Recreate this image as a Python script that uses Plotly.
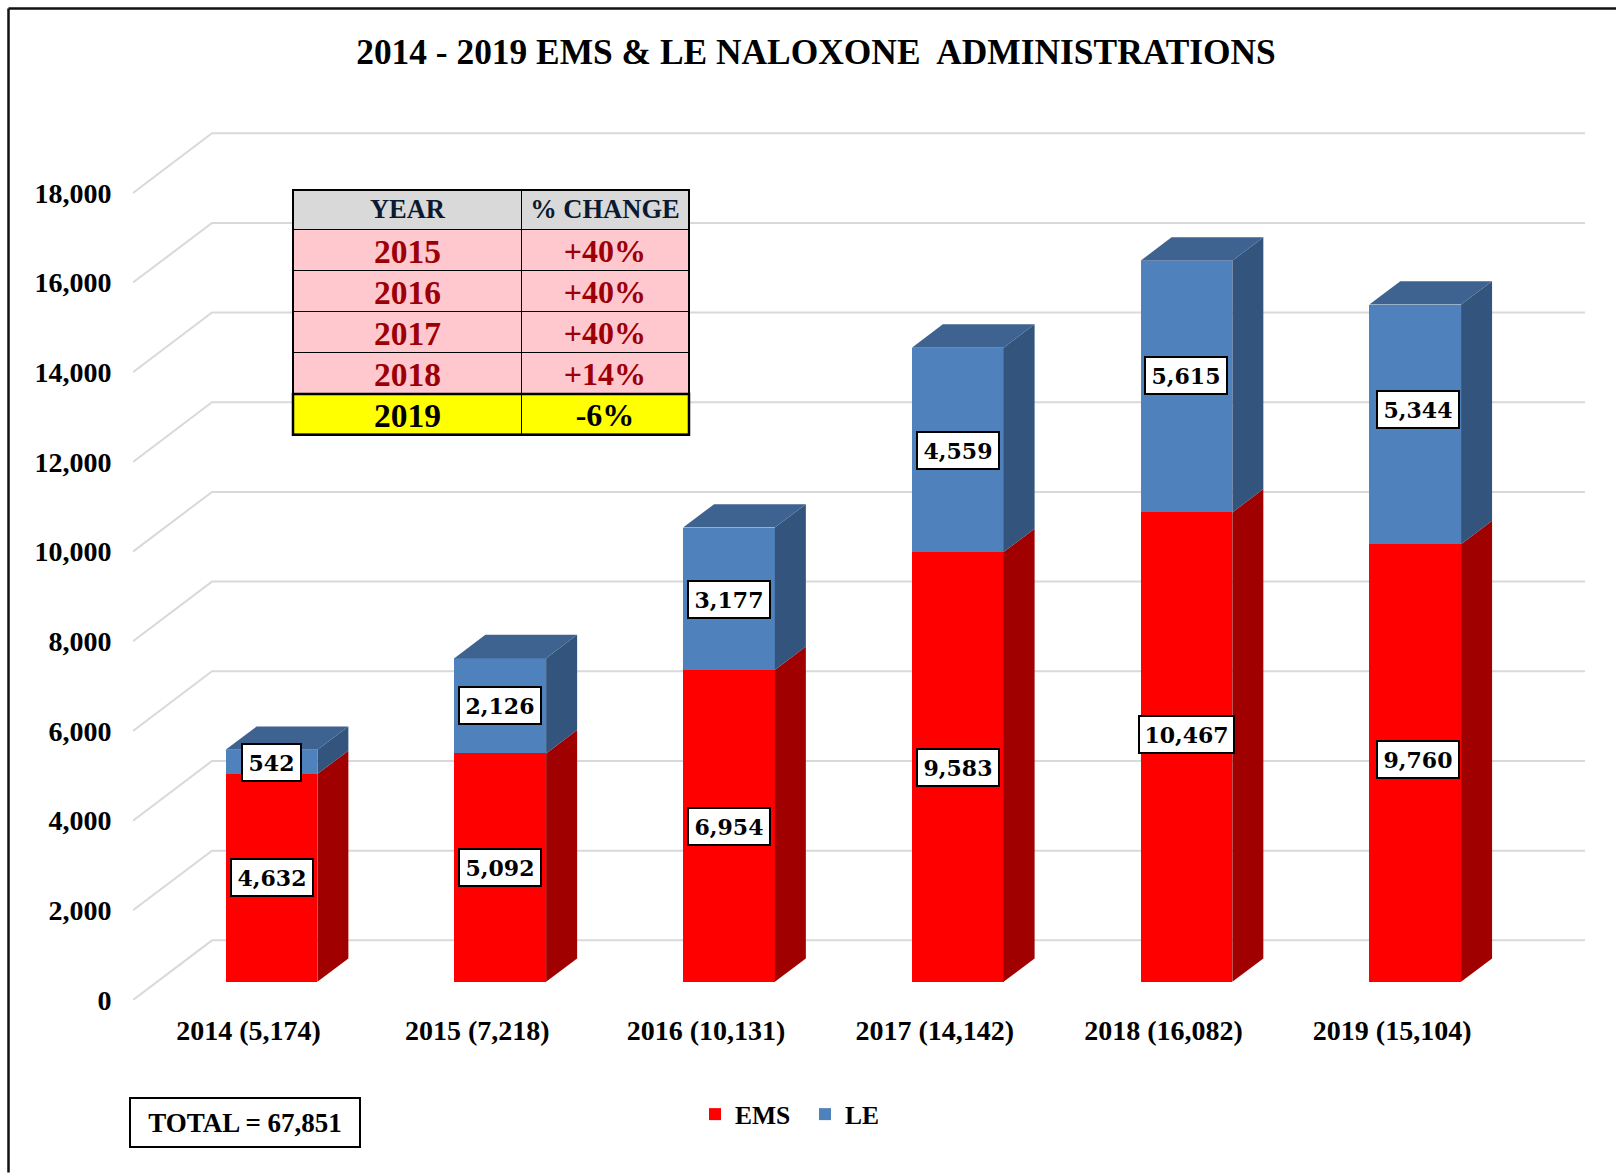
import plotly.graph_objects as go

# ---- data ----
years = [2014, 2015, 2016, 2017, 2018, 2019]
ems = [4632, 5092, 6954, 9583, 10467, 9760]
le = [542, 2126, 3177, 4559, 5615, 5344]
totals = [5174, 7218, 10131, 14142, 16082, 15104]
y_ticks = list(range(0, 18001, 2000))
table_years = ["2015", "2016", "2017", "2018", "2019"]
table_change = ["+40%", "+40%", "+40%", "+14%", "-6%"]
grand_total = 67851
title_text = "2014 - 2019 EMS &amp; LE NALOXONE\u00a0 ADMINISTRATIONS"

# ---- page geometry (pixels) ----
W, H = 1616, 1173
PL, PR, PT, PB = 133.0, 1585.0, 120.0, 1000.4
UX = 228.74            # px per category
UY = 0.04486           # px per count
BAR_Y0 = 982.2         # pixel row of the bars' zero
SERIF = "Liberation Serif"
LABEL = "DejaVu Serif"

def px(x): return (x - PL) / (PR - PL)
def py(y): return (PB - y) / (PB - PT)

x_range = [-(248.5 - PL) / UX, (PR - 248.5) / UX]
x2_range = [-(271.5 - PL) / UX, (PR - 271.5) / UX]
y_range = [0, (PB - PT) / UY]
y2_range = [-(PB - BAR_Y0) / UY, (BAR_Y0 - PT) / UY]

pos = list(range(len(years)))
bar_w = 91.75 / UX
side_dx = 31.0 / UX
side_dy = 23.4 / UY
grid_dx = 79.0 / UX
grid_dy = 59.7 / UY

fig = go.Figure()

# floor/wall gridlines
gx, gy = [], []
for v in y_ticks:
    gx += [x_range[0], x_range[0] + grid_dx, x_range[1], None]
    gy += [v, v + grid_dy, v + grid_dy, None]
fig.add_trace(go.Scatter(x=gx, y=gy, mode="lines", line=dict(color="#D9D9D9", width=2),
                         showlegend=False, hoverinfo="skip", xaxis="x", yaxis="y"))

# front faces
fig.add_trace(go.Bar(x=pos, y=ems, name="EMS", marker=dict(color="#FF0000", line=dict(width=0)),
                     width=bar_w, xaxis="x2", yaxis="y2"))
fig.add_trace(go.Bar(x=pos, y=le, name="LE", marker=dict(color="#4F81BD", line=dict(width=0)),
                     width=bar_w, xaxis="x2", yaxis="y2"))

def side_faces(lows, highs):
    xs, ys = [], []
    for k, a, b in zip(pos, lows, highs):
        r = k + bar_w / 2
        xs += [r, r + side_dx, r + side_dx, r, r, None]
        ys += [a, a + side_dy, b + side_dy, b, a, None]
    return xs, ys

tops = [a + b for a, b in zip(ems, le)]
for lows, highs, colour in [([0] * 6, ems, "#A00000"), (ems, tops, "#33547D")]:
    xs, ys = side_faces(lows, highs)
    fig.add_trace(go.Scatter(x=xs, y=ys, mode="lines", fill="toself", fillcolor=colour,
                             line=dict(width=0, color=colour), showlegend=False,
                             hoverinfo="skip", xaxis="x2", yaxis="y2"))
xs, ys = [], []
for k, t in zip(pos, tops):
    l, r = k - bar_w / 2, k + bar_w / 2
    xs += [l, l + side_dx, r + side_dx, r, l, None]
    ys += [t, t + side_dy, t + side_dy, t, t, None]
fig.add_trace(go.Scatter(x=xs, y=ys, mode="lines", fill="toself", fillcolor="#3F6390",
                         line=dict(width=0, color="#3F6390"), showlegend=False,
                         hoverinfo="skip", xaxis="x2", yaxis="y2"))

# table
header_fill = "#D9D9D9"
pink, yellow = "#FFC7CE", "#FFFF00"
rows_fill = [pink, pink, pink, pink, yellow]
rows_font = ["#9C0006", "#9C0006", "#9C0006", "#9C0006", "#000000"]
fig.add_trace(go.Table(
    domain=dict(x=[px(293), px(689)], y=[py(436), py(190)]),
    columnwidth=[229.5, 166.5],
    header=dict(values=["YEAR", "%\u00a0CHANGE"], fill_color=header_fill, height=40,
                line=dict(color="#000000", width=1),
                font=dict(family=SERIF, size=26.5, color="#0A1A30", weight="bold"), align="center"),
    cells=dict(values=[table_years, table_change], fill_color=[rows_fill, rows_fill], height=41,
               line=dict(color="#000000", width=1),
               font=dict(family=SERIF, size=[33.5, 32], color=[rows_font, rows_font], weight="bold"),
               align="center"),
))

# value labels
annos = []
nudge_ems = [0, 0, -1, -1, 13, 3]
nudge_le = [-1, 0, -1, -1, 11, 15]
nudge_x = [0, 0, 0, 0, 0, 3]
def label(k, y_mid, val, dy):
    txt = f"{val:,}"
    annos.append(dict(x=k, y=y_mid, xref="x2", yref="y2", text=txt, showarrow=False,
                      xshift=nudge_x[k], yshift=dy, width={3: 55, 5: 78, 6: 91}[len(txt)], height=33,
                      font=dict(family=LABEL, size=22, color="#000000", weight="bold"),
                      bgcolor="#FFFFFF", bordercolor="#000000", borderwidth=2, borderpad=1))
for k in pos:
    label(k, ems[k] / 2, ems[k], nudge_ems[k])
    label(k, ems[k] + le[k] / 2, le[k], nudge_le[k])

annos.append(dict(x=px(244.5), y=py(1123), xref="paper", yref="paper", text=f"TOTAL = {grand_total:,}",
                  showarrow=False, width=226, height=45, xanchor="center", yanchor="middle",
                  font=dict(family=SERIF, size=27, color="#000000", weight="bold"),
                  bgcolor="#FFFFFF", bordercolor="#000000", borderwidth=2))

def rect(x0, y0, x1, y1, width):
    return dict(type="rect", xref="paper", yref="paper", x0=px(x0), x1=px(x1), y0=py(y0), y1=py(y1),
                line=dict(color="#000000", width=width), fillcolor="rgba(0,0,0,0)", layer="above")

shapes = [
    dict(type="line", xref="paper", yref="paper", x0=px(8.5), x1=px(W), y0=py(8.5), y1=py(8.5),
         line=dict(color="#111111", width=2.5)),
    dict(type="line", xref="paper", yref="paper", x0=px(8.5), x1=px(8.5), y0=py(8.5), y1=py(H),
         line=dict(color="#111111", width=2.5)),
    rect(293, 190, 689, 435, 2),
    rect(293, 394, 689, 435, 2.5),
]

axis_font = dict(family=SERIF, size=28, color="#000000", weight="bold")
fig.update_layout(
    width=W, height=H, autosize=False,
    margin=dict(l=PL, r=W - PR, t=PT, b=H - PB, pad=0),
    paper_bgcolor="#FFFFFF", plot_bgcolor="rgba(0,0,0,0)",
    barmode="stack",
    title=dict(text=title_text, x=816 / W, xanchor="center", y=1 - 51.5 / H, yanchor="middle",
               font=dict(family=SERIF, size=35.4, color="#000000", weight="bold")),
    xaxis=dict(range=x_range, tickvals=pos, ticktext=[f"{y} ({t:,})" for y, t in zip(years, totals)],
               ticks="outside", ticklen=5, tickcolor="rgba(0,0,0,0)", showgrid=False, zeroline=False,
               showline=False, tickfont=axis_font),
    yaxis=dict(range=y_range, tickvals=y_ticks, tickformat=",d", ticks="outside", ticklen=15,
               tickcolor="rgba(0,0,0,0)", showgrid=False, zeroline=False, showline=False, tickfont=axis_font),
    xaxis2=dict(range=x2_range, overlaying="x", visible=False),
    yaxis2=dict(range=y2_range, overlaying="y", visible=False),
    legend=dict(orientation="h", x=px(695), y=py(1115), xanchor="left", yanchor="middle",
                entrywidth=65, entrywidthmode="pixels", traceorder="normal",
                font=dict(family=SERIF, size=25.5, color="#000000", weight="bold"),
                bgcolor="rgba(0,0,0,0)"),
    annotations=annos, shapes=shapes,
)
fig.write_html("out.html", post_script="document.body.style.margin='0';",
               config={"displayModeBar": False})
